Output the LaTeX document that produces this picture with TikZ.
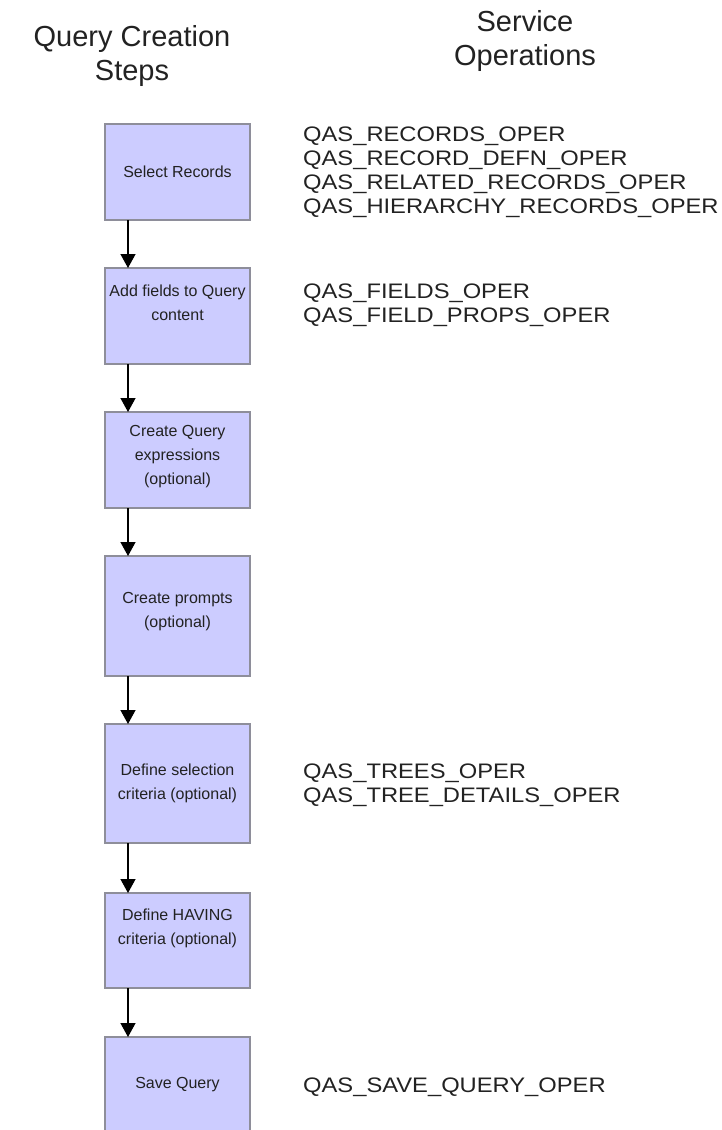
\documentclass[tikz,border=0pt]{standalone}
\usepackage{fontspec}
\setmainfont{Liberation Sans}
\newfontfamily\opsfont[FakeStretch=1.13]{Liberation Sans}
\usetikzlibrary{arrows.meta}
\definecolor{boxfill}{HTML}{CCCCFF}
\definecolor{boxline}{HTML}{8E8E9A}
\definecolor{ink}{HTML}{222222}
\begin{document}
\begin{tikzpicture}[x=1pt,y=-1pt,
  stepbox/.style={draw=boxline, fill=boxfill, line width=1.2pt, minimum width=145pt, inner sep=0pt, outer sep=0pt, anchor=north},
  steptext/.style={align=center, text=ink, inner sep=0pt, font=\fontsize{16}{24}\selectfont},
  optext/.style={align=left, anchor=west, text=ink, inner sep=0pt, font=\opsfont\fontsize{21}{24}\selectfont},
  head/.style={align=center, text=ink, inner sep=0pt, font=\fontsize{29}{34}\selectfont},
  flow/.style={-{Triangle[width=15pt,length=14pt]}, line width=1.3pt, draw=black}]
\useasboundingbox (0,0) rectangle (722,1130);
\clip (0,0) rectangle (722,1130);
\fill[white] (0,0) rectangle (722,1130);

% headers
\node[head] (h1) at (132,56) {Query Creation\\Steps};
\node[head] (h2) at (525,41) {Service\\Operations};

% step boxes
\node[stepbox, minimum height=96pt]  (b1) at (177.5,124) {};
\node[stepbox, minimum height=96pt]  (b2) at (177.5,268) {};
\node[stepbox, minimum height=96pt]  (b3) at (177.5,412) {};
\node[stepbox, minimum height=120pt] (b4) at (177.5,556) {};
\node[stepbox, minimum height=119pt] (b5) at (177.5,724) {};
\node[stepbox, minimum height=95pt]  (b6) at (177.5,893) {};
\node[stepbox, minimum height=110pt] (b7) at (177.5,1037) {};

% step texts
\node[steptext] (t1) at (177.5,172) {Select Records};
\node[steptext] (t2) at (177.5,303) {Add fields to Query\\content};
\node[steptext] (t3) at (177.5,457) {Create Query\\expressions\\(optional)};
\node[steptext] (t4) at (177.5,612) {Create prompts\\(optional)};
\node[steptext] (t5) at (177.5,783) {Define selection\\criteria (optional)};
\node[steptext] (t6) at (177.5,928) {Define HAVING\\criteria (optional)};
\node[steptext] (t7) at (177.5,1085) {Save Query};

% connectors
\coordinate (ax) at (128,0);
\draw[flow] (b1.south -| ax) -- (b2.north -| ax);
\draw[flow] (b2.south -| ax) -- (b3.north -| ax);
\draw[flow] (b3.south -| ax) -- (b4.north -| ax);
\draw[flow] (b4.south -| ax) -- (b5.north -| ax);
\draw[flow] (b5.south -| ax) -- (b6.north -| ax);
\draw[flow] (b6.south -| ax) -- (b7.north -| ax);

% service operations
\node[optext] (o1) at (303,172) {QAS\_RECORDS\_OPER\\QAS\_RECORD\_DEFN\_OPER\\QAS\_RELATED\_RECORDS\_OPER\\QAS\_HIERARCHY\_RECORDS\_OPER};
\node[optext] (o2) at (303,305) {QAS\_FIELDS\_OPER\\QAS\_FIELD\_PROPS\_OPER};
\node[optext] (o5) at (303,785) {QAS\_TREES\_OPER\\QAS\_TREE\_DETAILS\_OPER};
\node[optext] (o7) at (303,1087) {QAS\_SAVE\_QUERY\_OPER};
\end{tikzpicture}
\end{document}
